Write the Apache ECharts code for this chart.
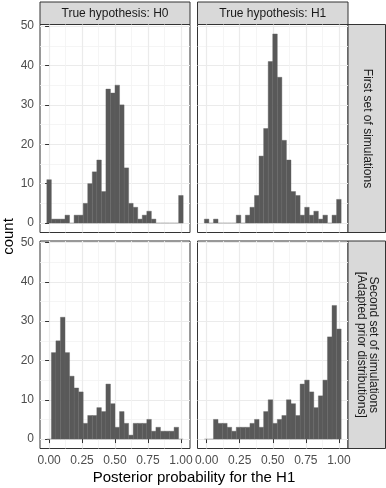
<!DOCTYPE html>
<html><head><meta charset="utf-8">
<script src="https://cdn.jsdelivr.net/npm/echarts@6/dist/echarts.min.js"></script>
<style>html,body{margin:0;padding:0;background:#fff}#c{width:386px;height:488px}</style>
</head><body><div id="c"></div>
<script>
// ---- data ----
const binCenters = [0, 0.0345, 0.069, 0.1034, 0.1379, 0.1724, 0.2069, 0.2414, 0.2759, 0.3103,
  0.3448, 0.3793, 0.4138, 0.4483, 0.4828, 0.5172, 0.5517, 0.5862, 0.6207, 0.6552,
  0.6897, 0.7241, 0.7586, 0.7931, 0.8276, 0.8621, 0.8966, 0.931, 0.9655, 1];
const binWidth = 0.0345;
const firstH0  = [11,1,1,1,2,0,2,2,5,10,13,16,8,34,33,35,30,14,5,4,1,2,3,1,0,0,0,0,0,7];
const firstH1  = [1,0,1,0,0,0,0,2,0,2,4,7,17,24,41,48,37,21,16,8,7,2,4,2,3,1,2,0,2,6];
const secondH0 = [0,22,25,31,22,16,13,12,4,6,6,8,7,14,9,3,7,4,1,4,4,4,5,2,3,2,2,2,3,0];
const secondH1 = [0,0,5,4,4,3,2,3,3,3,4,5,3,7,10,4,5,6,10,9,6,14,15,12,8,11,15,26,34,28];
const colLabels = ['True hypothesis: H0', 'True hypothesis: H1'];
const rowLabels = ['First set of simulations', 'Second set of simulations\n[Adapted prior distributions]'];
const xTicks = [0, 0.25, 0.5, 0.75, 1];
const xMinor = [0.125, 0.375, 0.625, 0.875];
const yTicks = [0, 10, 20, 30, 40, 50];
const yMinor = [5, 15, 25, 35, 45];
const xLimits = [-0.069, 1.069];
const yLimits = [-2.4, 50.4];
const xTitle = 'Posterior probability for the H1';
const yTitle = 'count';

// ---- layout ----
const FONT = '"Liberation Sans", Arial, Helvetica, sans-serif';
const colX = [40, 197.5], colW = [150, 150.5];
const rowY = [24.5, 241], rowH = [208, 207.5];
const panels = [
  {r:0, c:0, d:firstH0}, {r:0, c:1, d:firstH1},
  {r:1, c:0, d:secondH0}, {r:1, c:1, d:secondH1}
];

const grids = [], xAxes = [], yAxes = [], series = [];
panels.forEach((p, g) => {
  grids.push({left: colX[p.c], top: rowY[p.r], width: colW[p.c], height: rowH[p.r],
    show: true, backgroundColor: '#fff', borderColor: '#333', borderWidth: 1});
  const showX = p.r === 1, showY = p.c === 0;
  xAxes.push({gridIndex: g, type: 'value', position: 'bottom', min: xLimits[0], max: xLimits[1],
    axisLine: {show: false},
    axisTick: {show: showX, customValues: xTicks, length: 4, lineStyle: {color: '#333', width: 1}},
    axisLabel: {show: showX, customValues: xTicks, margin: 6, color: '#4D4D4D', fontSize: 12, fontFamily: FONT,
      formatter: v => v.toFixed(2)},
    splitLine: {show: true, lineStyle: {color: '#EBEBEB', width: 1.2}}});
  xAxes.push({gridIndex: g, type: 'value', position: 'top', min: xLimits[0], max: xLimits[1],
    axisLine: {show: false}, axisTick: {show: false, customValues: xMinor},
    axisLabel: {show: false, customValues: xMinor},
    splitLine: {show: true, lineStyle: {color: '#F2F2F2', width: 0.8}}});
  yAxes.push({gridIndex: g, type: 'value', position: 'left', min: yLimits[0], max: yLimits[1],
    axisLine: {show: false},
    axisTick: {show: showY, customValues: yTicks, length: 4, lineStyle: {color: '#333', width: 1}},
    axisLabel: {show: showY, customValues: yTicks, margin: 6, color: '#4D4D4D', fontSize: 12, fontFamily: FONT},
    splitLine: {show: true, lineStyle: {color: '#EBEBEB', width: 1.2}}});
  yAxes.push({gridIndex: g, type: 'value', position: 'right', min: yLimits[0], max: yLimits[1],
    axisLine: {show: false}, axisTick: {show: false, customValues: yMinor},
    axisLabel: {show: false, customValues: yMinor},
    splitLine: {show: true, lineStyle: {color: '#F2F2F2', width: 0.8}}});
  series.push({type: 'custom', coordinateSystem: 'cartesian2d', xAxisIndex: 2*g, yAxisIndex: 2*g,
    silent: true, z: 3,
    data: binCenters.map((x, i) => [x, p.d[i]]),
    renderItem: (params, api) => {
      const x = api.value(0), c = api.value(1);
      const a = api.coord([x - binWidth/2, c]);
      const b = api.coord([x + binWidth/2, 0]);
      const h = b[1] - a[1];
      if (h < 0.8) {
        return {type: 'rect', shape: {x: a[0], y: b[1] - 0.4, width: b[0] - a[0], height: 0.8},
          style: {fill: '#A0A0A0'}};
      }
      return {type: 'rect', shape: {x: a[0], y: a[1], width: b[0] - a[0], height: h},
        style: {fill: '#595959', stroke: '#636363', lineWidth: 0.4}};
    }});
});

const graphic = [];
colLabels.forEach((t, c) => {
  graphic.push({type: 'rect', shape: {x: colX[c], y: 2, width: colW[c], height: rowY[0] - 2},
    style: {fill: '#D9D9D9', stroke: '#333', lineWidth: 1}, silent: true});
  graphic.push({type: 'text', x: colX[c] + colW[c]/2, y: (2 + rowY[0])/2 + 0.5,
    style: {text: t, fill: '#1A1A1A', fontSize: 12, fontFamily: FONT,
      align: 'center', verticalAlign: 'middle', textAlign: 'center', textVerticalAlign: 'middle'}, silent: true});
});
const stripX = colX[1] + colW[1], stripW = 385.5 - stripX;
rowLabels.forEach((t, r) => {
  graphic.push({type: 'rect', shape: {x: stripX, y: rowY[r], width: stripW, height: rowH[r]},
    style: {fill: '#D9D9D9', stroke: '#333', lineWidth: 1}, silent: true});
  graphic.push({type: 'text', x: stripX + stripW/2 + 0.5, y: rowY[r] + rowH[r]/2, rotation: -Math.PI/2,
    style: {text: t, fill: '#1A1A1A', fontSize: 12, fontFamily: FONT, lineHeight: 12.5,
      align: 'center', verticalAlign: 'middle', textAlign: 'center', textVerticalAlign: 'middle'}, silent: true});
});
graphic.push({type: 'text', x: (colX[0] + colX[1] + colW[1])/2, y: 478,
  style: {text: xTitle, fill: '#000', fontSize: 15, fontFamily: FONT,
    align: 'center', verticalAlign: 'middle', textAlign: 'center', textVerticalAlign: 'middle'}, silent: true});
graphic.push({type: 'text', x: 8.5, y: (rowY[0] + rowY[1] + rowH[1])/2, rotation: Math.PI/2,
  style: {text: yTitle, fill: '#000', fontSize: 15, fontFamily: FONT,
    align: 'center', verticalAlign: 'middle', textAlign: 'center', textVerticalAlign: 'middle'}, silent: true});

const chart = echarts.init(document.getElementById('c'), null, {renderer: 'canvas'});
chart.setOption({animation: false, backgroundColor: '#fff', grid: grids, xAxis: xAxes, yAxis: yAxes,
  series: series, graphic: graphic});
</script></body></html>
